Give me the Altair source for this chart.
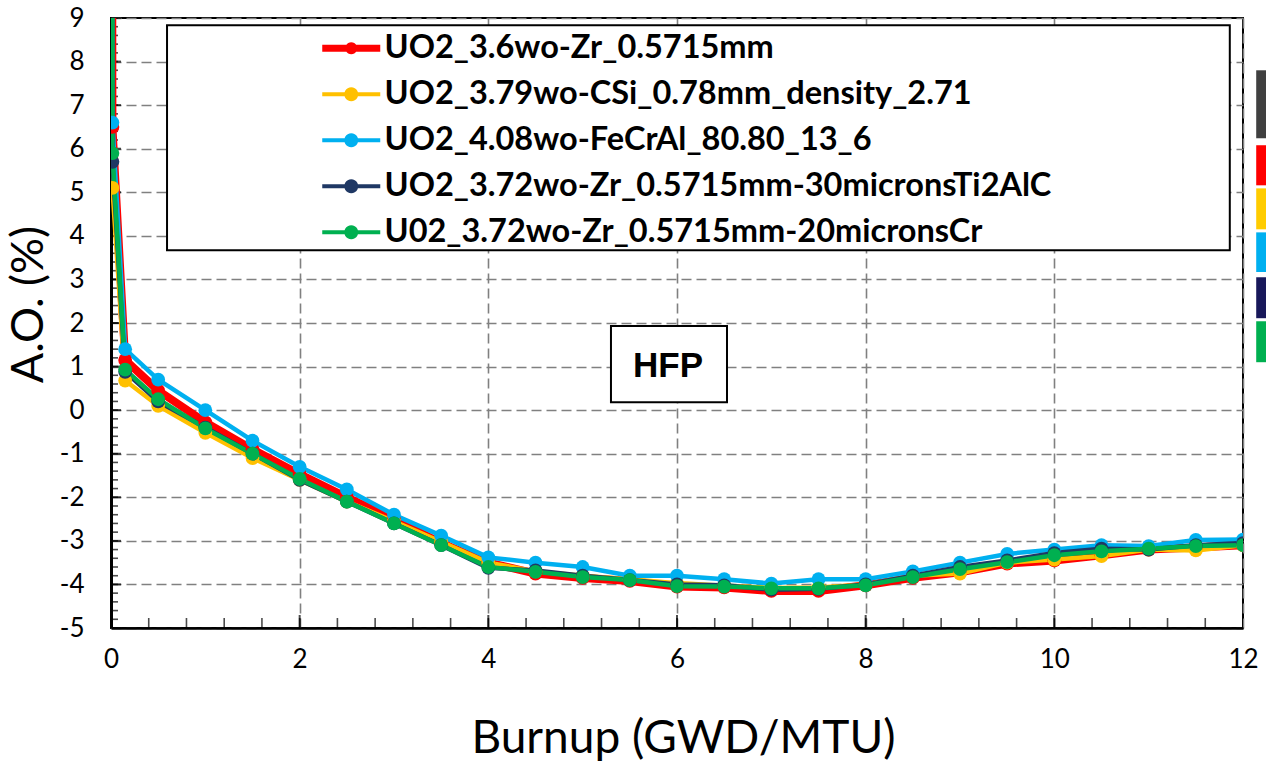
import math
import altair as alt
import pandas as pd

# ---------------- data ----------------
burnup = [0, 0.015, 0.15, 0.5, 1.0, 1.5, 2.0, 2.5, 3.0, 3.5, 4.0, 4.5, 5.0, 5.5,
          6.0, 6.5, 7.0, 7.5, 8.0, 8.5, 9.0, 9.5, 10.0, 10.5, 11.0, 11.5, 12.0]

series_names = [
    "UO2_3.6wo-Zr_0.5715mm",
    "UO2_3.79wo-CSi_0.78mm_density_2.71",
    "UO2_4.08wo-FeCrAl_80.80_13_6",
    "UO2_3.72wo-Zr_0.5715mm-30micronsTi2AlC",
    "U02_3.72wo-Zr_0.5715mm-20micronsCr",
]
series_colors = ["#FF0000", "#FFC000", "#00B0F0", "#1F3864", "#00B050"]
series_widths = [8, 4.5, 4.5, 4.5, 4.5]

ao_zr = [30, 6.5, 1.15, 0.45, -0.28, -0.9, -1.47, -2.0, -2.5, -3.05, -3.5, -3.75, -3.85, -3.92,
         -4.05, -4.07, -4.15, -4.15, -4.02, -3.85, -3.72, -3.52, -3.45, -3.33, -3.2, -3.15, -3.1]
ao_csi = [30, 5.1, 0.68, 0.1, -0.52, -1.1, -1.6, -2.1, -2.55, -3.02, -3.5, -3.7, -3.8, -3.88,
          -3.97, -4.03, -4.08, -4.07, -4.0, -3.8, -3.75, -3.5, -3.43, -3.35, -3.2, -3.22, -3.1]
ao_fecral = [30, 6.6, 1.4, 0.7, 0.0, -0.7, -1.3, -1.82, -2.4, -2.88, -3.38, -3.5, -3.6, -3.8,
             -3.8, -3.88, -3.98, -3.88, -3.88, -3.7, -3.5, -3.3, -3.2, -3.1, -3.12, -2.98, -2.97]
ao_ti2alc = [30, 5.7, 0.88, 0.2, -0.4, -1.0, -1.6, -2.1, -2.6, -3.1, -3.62, -3.68, -3.8, -3.9,
             -4.0, -4.02, -4.12, -4.1, -4.0, -3.8, -3.6, -3.45, -3.28, -3.18, -3.2, -3.1, -3.05]
ao_cr = [30, 5.9, 0.93, 0.25, -0.42, -1.0, -1.58, -2.1, -2.6, -3.1, -3.6, -3.71, -3.83, -3.9,
         -4.04, -4.05, -4.09, -4.09, -4.02, -3.83, -3.65, -3.49, -3.33, -3.24, -3.18, -3.12, -3.1]
all_values = [ao_zr, ao_csi, ao_fecral, ao_ti2alc, ao_cr]

x_major = [0, 2, 4, 6, 8, 10, 12]
x_minor = [round(0.4 * i, 2) for i in range(31)]
y_major = list(range(-5, 10))
y_minor = [round(-5 + 0.2 * i, 2) for i in range(71)]

# annotation boxes (data units)
legend_box = {"x": 0.594, "x2": 11.86, "y": 8.836, "y2": 3.672}
hfp_box = {"x": 5.30, "x2": 6.53, "y": 1.93, "y2": 0.18}
hfp_label = {"x": 5.905, "y": 0.757, "text": "HFP"}

# coloured strip at the right edge (data units)
strip_colors = ["#404040", "#FF0000", "#FFCC00", "#00B0F0", "#18185A", "#00B050"]
strip_top = [7.80, 6.08, 5.09, 4.08, 3.05, 2.04]
strip_bottom = [6.24, 5.16, 4.15, 3.17, 2.11, 1.10]
strip_x = [12.14, 12.245]

# ---------------- tables ----------------
rows = []
for name, col, w, vals in zip(series_names, series_colors, series_widths, all_values):
    for xv, yv in zip(burnup, vals):
        rows.append({"series": name, "x": xv, "y": yv, "col": col, "w": w})
df = pd.DataFrame(rows)


def legend_path(t, r, half=2.9, n=24):
    # a short thick line with a dot in the middle (only M/L commands)
    p = f"M{-half:.3f},{-t:.3f}L{half:.3f},{-t:.3f}L{half:.3f},{t:.3f}L{-half:.3f},{t:.3f}"
    pts = [(r * math.cos(2 * math.pi * k / n), r * math.sin(2 * math.pi * k / n)) for k in range(n)]
    p += "M" + "L".join(f"{a:.3f},{b:.3f}" for a, b in pts)
    return p


legend_paths = [legend_path(0.36, 0.6)] + [legend_path(0.2, 0.7)] * 4

FONT = "Lato"
plain_label = "'' + datum.value"

x_scale = alt.Scale(domain=[0, 12], nice=False, zero=False)
y_scale = alt.Scale(domain=[-5, 9], nice=False, zero=False)

x_axis = alt.Axis(values=x_major, title="Burnup (GWD/MTU)", labelFont=FONT, labelFontSize=26,
                  labelColor="black", labelPadding=18, labelFlush=False, labelOverlap=False,
                  labelExpr=plain_label,
                  ticks=False, domainColor="black", domainWidth=2.5,
                  grid=True, gridDash=[10, 5], gridColor="#808080", gridWidth=1.6,
                  titleFont=FONT, titleFontSize=46, titleFontWeight="normal", titleColor="black",
                  titleX=572, titleY=124, titleBaseline="alphabetic", titleAnchor="middle",
                  titleAlign="center")
y_axis = alt.Axis(values=y_major, title="A.O. (%)", labelFont=FONT, labelFontSize=26,
                  labelColor="black", labelPadding=27, labelFlush=False, labelOverlap=False,
                  labelExpr=plain_label,
                  ticks=False, domainColor="black", domainWidth=3,
                  grid=True, gridDash=[10, 5], gridColor="#808080", gridWidth=1.6,
                  titleFont=FONT, titleFontSize=45, titleFontWeight="normal", titleColor="black",
                  titleX=-69, titleY=286, titleAngle=270, titleBaseline="alphabetic",
                  titleAlign="center", titleAnchor="middle")

X = alt.X("x:Q", scale=x_scale, axis=x_axis)
Y = alt.Y("y:Q", scale=y_scale, axis=y_axis)

# ticks pointing into the plot (half of each tick is clipped away)
xmaj_df = pd.DataFrame({"x": x_major, "y": [-5] * len(x_major)})
xmin_df = pd.DataFrame({"x": x_minor, "y": [-5] * len(x_minor)})
ymaj_df = pd.DataFrame({"x": [0] * len(y_major), "y": y_major})
ymin_df = pd.DataFrame({"x": [0] * len(y_minor), "y": y_minor})

tick_xmaj = alt.Chart(xmaj_df).mark_tick(orient="vertical", size=26, thickness=2, color="black",
                                         clip=True).encode(x=X, y=Y)
tick_xmin = alt.Chart(xmin_df).mark_tick(orient="vertical", size=20, thickness=1.6, color="black",
                                         clip=True).encode(x=X, y=Y)
tick_ymaj = alt.Chart(ymaj_df).mark_tick(orient="horizontal", size=20, thickness=2, color="black",
                                         clip=True).encode(x=X, y=Y)
tick_ymin = alt.Chart(ymin_df).mark_tick(orient="horizontal", size=14, thickness=1.6, color="black",
                                         clip=True).encode(x=X, y=Y)

box_df = pd.DataFrame([legend_box, hfp_box])
boxes = alt.Chart(box_df).mark_rect(fill="white", stroke="black", strokeWidth=2).encode(
    x=X, x2="x2:Q", y=Y, y2="y2:Q")

hfp_text = alt.Chart(pd.DataFrame([hfp_label])).mark_text(
    font="Liberation Sans", fontSize=35, fontWeight="bold", color="black",
    align="center", baseline="alphabetic").encode(x=X, y=Y, text="text:N")

strip_df = pd.DataFrame({"x": [strip_x[0]] * 6, "x2": [strip_x[1]] * 6,
                         "y": strip_top, "y2": strip_bottom, "c": strip_colors})
strip = alt.Chart(strip_df).mark_rect().encode(
    x=X, x2="x2:Q", y=Y, y2="y2:Q", fill=alt.Fill("c:N", scale=None))

lines = alt.Chart(df).mark_line(clip=True, strokeJoin="round").encode(
    x=X, y=Y,
    stroke=alt.Stroke("col:N", scale=None),
    strokeWidth=alt.StrokeWidth("w:Q", scale=None),
    detail="series:N",
)

points = alt.Chart(df).mark_circle(clip=True, size=190, opacity=1).encode(
    x=X, y=Y,
    fill=alt.Fill("col:N", scale=None),
)

leg = alt.Legend(orient="none", legendX=224, legendY=14, title=None, zindex=1,
                 direction="vertical", columns=1,
                 rowPadding=13, labelOffset=17, labelFont=FONT, labelFontSize=32.5,
                 labelFontWeight="bold", labelColor="black", labelLimit=1000, padding=0,
                 symbolStrokeWidth=0, symbolOpacity=1, symbolSize=400)

# legend source: same rows pushed far outside the y domain, so they are clipped away
legend_layer = alt.Chart(df).transform_calculate(y="datum.y + 1000").mark_point(
    filled=True, opacity=1, size=400, strokeWidth=0, clip=True).encode(
    x=X, y=Y,
    color=alt.Color("series:N", scale=alt.Scale(domain=series_names, range=series_colors),
                    legend=leg),
    shape=alt.Shape("series:N", scale=alt.Scale(domain=series_names, range=legend_paths),
                    legend=leg),
)

chart = alt.layer(
    boxes, hfp_text, strip, tick_xmin, tick_xmaj, tick_ymin, tick_ymaj,
    lines, points, legend_layer
).properties(
    width=1132, height=610,
    autosize=alt.AutoSizeParams(type="none"),
    padding={"left": 111, "top": 18, "right": 23, "bottom": 137},
    background="white",
).configure_view(stroke="black", strokeWidth=2)

chart.save("out.html", embed_options={"renderer": "svg", "actions": False})
